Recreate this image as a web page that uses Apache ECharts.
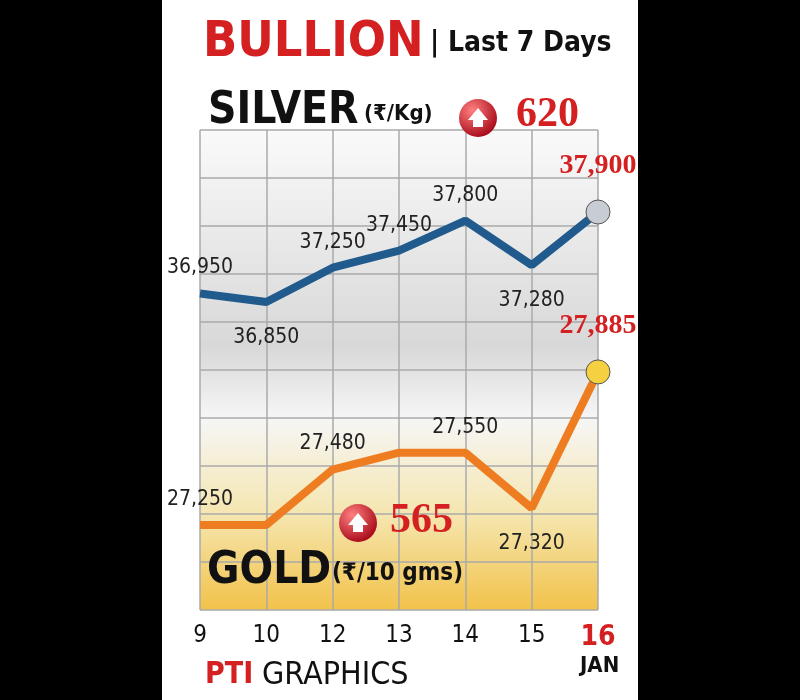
<!DOCTYPE html>
<html><head><meta charset="utf-8">
<script src="https://cdn.jsdelivr.net/npm/echarts@6/dist/echarts.min.js"></script>
<style>html,body{margin:0;background:#000}#c{width:800px;height:700px}</style>
</head><body><div id="c"></div>
<script>
const days = ['9','10','12','13','14','15','16'];
const silver = [36950, 36850, 37250, 37450, 37800, 37280, 37900];
const gold = [27250, 27250, 27480, 27550, 27550, 27320, 27885];
const silverLabelPos = ['top','bottom','top','top','top','bottom','top'];
const silverShow = [true,true,true,true,true,true,true];
const goldLabelPos = ['top','top','top','top','top','bottom','top'];
const goldShow = [true,false,true,false,true,true,true];
const silverChange = '620', goldChange = '565';

const chart = echarts.init(document.getElementById('c'));
const F = '"DejaVu Sans Condensed", "Liberation Sans Narrow", sans-serif';
function mk(vals,pos,show,markerColor){
  return vals.map((v,i)=>{
    const last = i===vals.length-1;
    return {value:v,
      symbol:'circle', symbolSize: last?24:2,
      itemStyle: last?{color:markerColor,borderColor:'#555',borderWidth:1}:{color:'rgba(0,0,0,0)',borderWidth:0},
      label:{show:show[i],position:pos[i],distance: pos[i]==='bottom'?24:(last?20:14),
        offset: last?[-10,0]:[0,0],
        formatter:p=>p.value.toLocaleString('en-US'),
        color:last?'#d42020':'#222',fontWeight:last?'bold':'normal',
        fontSize:last?28:21,fontFamily:last?'Liberation Serif':F}};
  });
}
function arrowIcon(cx,cy){
  return [{type:'circle',shape:{cx,cy,r:19},style:{fill:new echarts.graphic.RadialGradient(0.35,0.3,0.8,[{offset:0,color:'#ff8080'},{offset:1,color:'#a00010'}])},z:10},
   {type:'polygon',shape:{points:[[cx-10,cy+2],[cx,cy-10],[cx+10,cy+2],[cx+5,cy+2],[cx+5,cy+9],[cx-5,cy+9],[cx-5,cy+2]]},style:{fill:'#fff'},z:11}];
}
chart.setOption({
  animation:false,
  backgroundColor:'#000',
  graphic:[
    {type:'rect',shape:{x:162,y:0,width:476,height:700},style:{fill:'#fff'},z:-10},
    {type:'rect',shape:{x:200,y:130,width:398,height:480},style:{fill:new echarts.graphic.LinearGradient(0,0,0,1,[{offset:0,color:'#fafafa'},{offset:0.45,color:'#d8d8d8'},{offset:0.6,color:'#f6f6f6'},{offset:0.8,color:'#f5e6b0'},{offset:1,color:'#f2c24a'}])},z:-5},
    {type:'text',left:203,top:18,style:{text:'BULLION',fill:'#d42020',font:'bold 50px '+F},z:10},
    {type:'text',left:430,top:30,style:{text:'| Last 7 Days',fill:'#111',font:'bold 28px '+F},z:10},
    {type:'text',left:208,top:90,style:{text:'SILVER',fill:'#111',font:'bold 44px '+F},z:10},
    {type:'text',left:364,top:103,style:{text:'(₹/Kg)',fill:'#111',font:'bold 22px '+F},z:10},
    ...arrowIcon(478,118),
    {type:'text',left:516,top:94,style:{text:silverChange,fill:'#d42020',font:'bold 42px Liberation Serif'},z:10},
    ...arrowIcon(358,523),
    {type:'text',left:390,top:500,style:{text:goldChange,fill:'#d42020',font:'bold 42px Liberation Serif'},z:10},
    {type:'text',left:207,top:550,style:{text:'GOLD',fill:'#111',font:'bold 44px '+F},z:10},
    {type:'text',left:332,top:562,style:{text:'(₹/10 gms)',fill:'#111',font:'bold 24px '+F},z:10},
    {type:'text',left:580,top:655,style:{text:'JAN',fill:'#111',font:'bold 22px '+F},z:10},
    {type:'text',left:205,top:660,style:{text:'PTI',fill:'#d42020',font:'bold 30px '+F},z:10},
    {type:'text',left:262,top:660,style:{text:'GRAPHICS',fill:'#111',font:'32px '+F},z:10}
  ],
  grid:{left:200,right:202,top:130,bottom:90},
  xAxis:{type:'category',data:days,boundaryGap:false,
    axisLine:{show:false},axisTick:{show:false},
    splitLine:{show:true,interval:0,lineStyle:{color:'#aaa',width:1.5}},
    axisLabel:{interval:0,margin:14,fontSize:24,fontFamily:F,color:'#111',
      formatter:v=>v==='16'?'{r|16}':v,rich:{r:{color:'#d42020',fontWeight:'bold',fontSize:28,fontFamily:F}}}},
  yAxis:[
    {type:'value',min:33256,max:38857,show:false,splitLine:{show:false}},
    {type:'value',min:26897,max:28889,show:false,splitLine:{show:false}},
    {type:'value',min:0,max:10,interval:1,axisLabel:{show:false},axisLine:{show:false},axisTick:{show:false},splitLine:{lineStyle:{color:'#aaa',width:1.5}}}
  ],
  series:[
    {type:'line',yAxisIndex:0,data:mk(silver,silverLabelPos,silverShow,'#c8ccd4'),lineStyle:{color:'#215a8c',width:8},showSymbol:true,showAllSymbol:true,labelLayout:{hideOverlap:false}},
    {type:'line',yAxisIndex:1,data:mk(gold,goldLabelPos,goldShow,'#f5d040'),lineStyle:{color:'#ee7d22',width:8},showSymbol:true,showAllSymbol:true,labelLayout:{hideOverlap:false}},
    {type:'line',yAxisIndex:2,data:[]}
  ]
});
</script></body></html>
